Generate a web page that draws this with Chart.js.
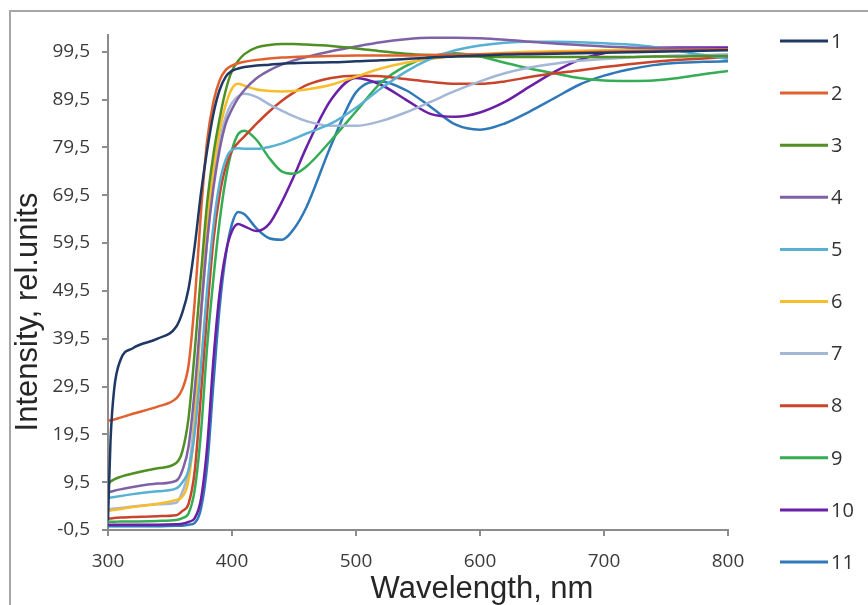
<!DOCTYPE html>
<html lang="en">
<head>
<meta charset="UTF-8">
<title>Intensity vs wavelength</title>
<script src="https://cdn.jsdelivr.net/npm/chart.js"></script>
<style>
    html, body { margin: 0; padding: 0; background: #fff; }
</style>
</head>
<body>
<canvas id="spectra" width="868" height="605"></canvas>

<script>
    // wavelength grid (nm) shared by all samples
    const wavelengths = [300, 302, 305, 310, 320, 340, 355, 360, 365, 370,
                         375, 380, 385, 390, 395, 400, 405, 410, 420, 430,
                         440, 450, 460, 480, 500, 520, 540, 560, 580, 600,
                         620, 640, 660, 680, 700, 720, 740, 760, 780, 800];
    const xTicks = [300, 400, 500, 600, 700, 800];
    const yTicks = [-0.5, 9.5, 19.5, 29.5, 39.5, 49.5, 59.5, 69.5, 79.5, 89.5, 99.5];

    const sampleNames = ['1', '2', '3', '4', '5', '6', '7', '8', '9', '10', '11'];
    const sampleColors = ['#1f3864', '#e0612f', '#4f8f23', '#7f62a6', '#58b0d3', '#f7bd2a',
                          '#a4b7d6', '#c9442a', '#35ad55', '#6a1fa6', '#3079b8'];

    // intensity, rel. units
    const s1 = [1.5, 18, 29, 35, 37.5, 39.5, 42, 45, 50, 59,
                70, 79, 86.5, 91.5, 94.3, 95.5, 96, 96.3, 96.6, 96.8,
                97, 97.1, 97.2, 97.3, 97.5, 97.7, 98, 98.3, 98.5, 98.7,
                98.9, 99, 99.1, 99.2, 99.3, 99.4, 99.5, 99.6, 99.7, 99.8];
    const s2 = [22.5, 22.4, 22.6, 23, 23.8, 25.3, 27, 29, 34, 47.5,
                66, 81, 89, 93.5, 95.7, 96.6, 97.1, 97.4, 97.8, 98.1,
                98.3, 98.4, 98.5, 98.6, 98.7, 98.7, 98.7, 98.8, 98.9, 99,
                99.1, 99.2, 99.3, 99.4, 99.5, 99.6, 99.7, 99.8, 99.9, 100];
    const s3 = [9, 9.6, 10.1, 10.6, 11.3, 12.4, 13.5, 16, 23, 37,
                53, 68, 78, 85.5, 91.5, 95.5, 97.6, 99, 100.4, 100.9,
                101.1, 101.1, 101, 100.7, 100.2, 99.6, 99.1, 98.8, 98.6, 98.5,
                98.4, 98.4, 98.4, 98.4, 98.4, 98.4, 98.5, 98.5, 98.6, 98.6];
    const s4 = [7.4, 7.5, 7.7, 8, 8.5, 9.2, 9.8, 12, 17, 29,
                45, 60, 71, 79, 84.5, 87.5, 89.8, 91.5, 94, 95.6,
                96.8, 97.7, 98.4, 99.6, 100.6, 101.5, 102.1, 102.4, 102.4, 102.3,
                102, 101.6, 101.2, 100.9, 100.6, 100.4, 100.3, 100.2, 100.1, 100];
    const s5 = [6.3, 6.3, 6.4, 6.6, 7, 7.6, 8.2, 9.5, 12, 20,
                34, 50, 63, 72, 77, 79, 79.3, 79.2, 79.2, 79.6,
                80.3, 81.3, 82.4, 84.5, 87.8, 91.8, 95.3, 98, 99.8, 100.8,
                101.4, 101.6, 101.6, 101.5, 101.3, 101, 100.5, 99.7, 98.8, 98];
    const s6 = [3.6, 3.6, 3.7, 3.9, 4.3, 5, 5.8, 6.5, 10, 22,
                45, 63, 75, 83, 88.5, 91.8, 92.8, 92.4, 91.6, 91.3,
                91.2, 91.3, 91.6, 92.6, 94.3, 96, 97.2, 98, 98.6, 99,
                99.3, 99.5, 99.6, 99.7, 99.8, 99.9, 100, 100, 100, 100];
    const s7 = [3.8, 3.9, 4, 4.1, 4.4, 4.9, 5.2, 7.5, 12, 24,
                44, 60, 72, 80.5, 86, 88.8, 90.2, 90.7, 90, 88.5,
                87.2, 86, 85, 84, 84, 85, 86.8, 89, 91.3, 93.3,
                95, 96.2, 97, 97.6, 98, 98.3, 98.5, 98.7, 98.8, 99];
    const s8 = [1.9, 1.9, 2, 2.1, 2.2, 2.4, 2.6, 3.5, 5, 12,
                28, 45, 60, 69.5, 75.5, 78.8, 80.5, 81.8, 84.5, 87,
                89.2, 91, 92.5, 94, 94.5, 94.4, 93.8, 93.2, 92.8, 92.8,
                93.3, 94.2, 95, 95.6, 96.3, 96.9, 97.4, 97.8, 98.1, 98.4];
    const s9 = [1.2, 1.2, 1.2, 1.3, 1.3, 1.4, 1.6, 2, 3, 8,
                20, 38, 52, 64, 73, 79, 82.3, 83, 81, 77.3,
                74.5, 74, 75.5, 81, 87, 93, 96.5, 98.5, 99.2, 98.5,
                97.2, 96, 95, 94, 93.5, 93.4, 93.5, 94, 94.8, 95.5];
    const s10 = [0.6, 0.6, 0.6, 0.6, 0.6, 0.6, 0.7, 0.8, 1.2, 2,
                 6, 17, 35, 49, 57.5, 62, 63.5, 63, 62, 63.5,
                 68, 73.5, 79.5, 89.5, 94, 92.6, 89.5, 86.5, 85.9, 86.8,
                 89, 92.2, 95.3, 97.8, 99.2, 99.9, 100.3, 100.4, 100.4, 100.4];
    const s11 = [0.3, 0.3, 0.3, 0.3, 0.3, 0.3, 0.4, 0.4, 0.6, 1,
                 4, 13, 30, 46, 57, 63.5, 66, 65.5, 62.5, 60.5,
                 60.2, 62.5, 67, 80, 91, 93.3, 91.5, 88, 84.3, 83.2,
                 84.5, 87, 89.8, 92.6, 94.5, 95.8, 96.7, 97.2, 97.4, 97.5];

    const samples = [s1, s2, s3, s4, s5, s6, s7, s8, s9, s10, s11];

    const tickFont = {family: 'Open Sans', size: 19};
    const axisGrey = '#8c8c8c';

    // frame, legend and axis titles laid out like the Excel original
    const decor = {
        id: 'decor',
        beforeDraw(chart) {
            const ctx = chart.ctx;
            ctx.save();
            ctx.strokeStyle = '#a6a6a6';
            ctx.lineWidth = 2;
            ctx.strokeRect(10, 11, 900, 640);
            ctx.restore();
        },
        afterDraw(chart) {
            const ctx = chart.ctx;
            ctx.save();
            // legend
            ctx.font = '20px "Open Sans"';
            ctx.textBaseline = 'middle';
            ctx.fillStyle = '#333';
            chart.data.datasets.forEach((ds, i) => {
                const y = 41 + i * 52.1;
                ctx.strokeStyle = ds.borderColor;
                ctx.lineWidth = 3;
                ctx.beginPath();
                ctx.moveTo(780, y);
                ctx.lineTo(828, y);
                ctx.stroke();
                ctx.fillText(ds.label, 831, y + 1);
            });
            // axis titles
            ctx.fillStyle = '#262626';
            ctx.font = '31px "Liberation Sans"';
            ctx.textAlign = 'center';
            ctx.textBaseline = 'alphabetic';
            ctx.fillText('Wavelength, nm', 482, 598);
            ctx.translate(37, 312);
            ctx.rotate(-Math.PI / 2);
            ctx.fillText('Intensity, rel.units', 0, 0);
            ctx.restore();
        }
    };

    new Chart(document.getElementById('spectra').getContext('2d'), {
        type: 'line',
        data: {
            datasets: samples.map((vals, i) => ({
                label: sampleNames[i],
                data: wavelengths.map((w, j) => ({x: w, y: vals[j]})),
                borderColor: sampleColors[i],
                borderWidth: 2.5,
                pointRadius: 0,
                fill: false,
                cubicInterpolationMode: 'monotone'
            }))
        },
        options: {
            responsive: false,
            devicePixelRatio: 1,
            animation: false,
            layout: {padding: {left: 0, right: 140, top: 35, bottom: 0}},
            plugins: {legend: {display: false}, tooltip: {enabled: false}},
            scales: {
                x: {
                    type: 'linear',
                    min: 300,
                    max: 800,
                    afterBuildTicks: ax => { ax.ticks = xTicks.map(v => ({value: v})); },
                    afterFit: ax => { ax.height = 75; },
                    border: {display: true, color: axisGrey, width: 2},
                    grid: {drawOnChartArea: false, tickLength: 6, color: axisGrey, lineWidth: 2},
                    ticks: {font: tickFont, color: '#3a3a3a', padding: 14, maxRotation: 0}
                },
                y: {
                    type: 'linear',
                    min: -0.5,
                    max: 103,
                    afterBuildTicks: ax => { ax.ticks = yTicks.map(v => ({value: v})); },
                    afterFit: ax => { ax.width = 108; },
                    border: {display: true, color: axisGrey, width: 2},
                    grid: {drawOnChartArea: false, tickLength: 6, color: axisGrey, lineWidth: 2},
                    ticks: {
                        font: tickFont,
                        color: '#3a3a3a',
                        padding: 12,
                        callback: v => String(v).replace('.', ',')
                    }
                }
            }
        },
        plugins: [decor]
    });
</script>
</body>
</html>
